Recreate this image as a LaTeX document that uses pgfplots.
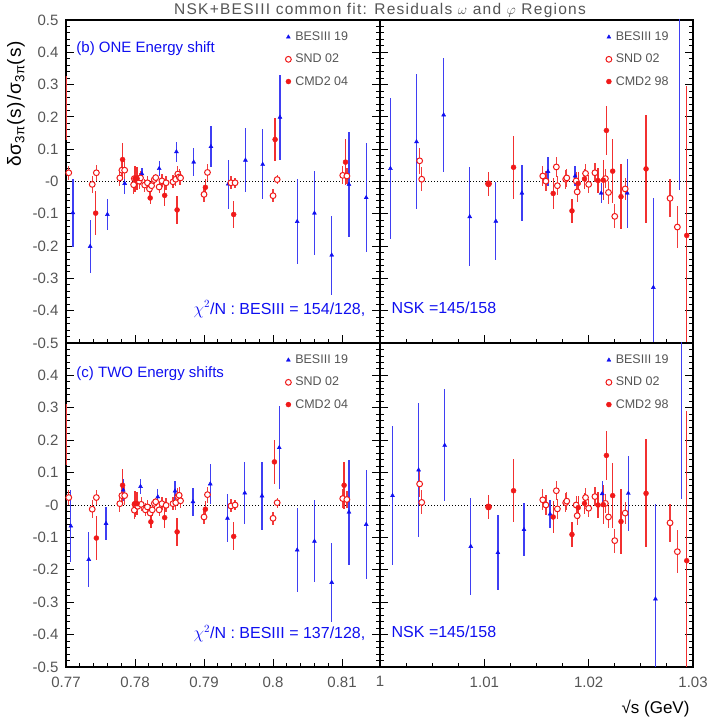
\documentclass[border=0pt]{standalone}
\usepackage{fontspec}
\setmainfont{Liberation Sans}
\newfontfamily\widefont{Liberation Sans}[LetterSpace=8]
\newfontfamily\ylabfont{Liberation Sans}[LetterSpace=5]
\usepackage{pgfplots}
\pgfplotsset{compat=1.18}
\definecolor{rblue}{RGB}{15,15,240}
\definecolor{rred}{RGB}{240,25,25}
\definecolor{tgray}{RGB}{85,85,85}
\newcommand\ticksize{\fontsize{15}{18}\selectfont}
\newcommand\legsize{\fontsize{12.5}{15}\selectfont}
\newcommand\txtsize{\fontsize{15}{18}\selectfont}
\newcommand\chisize{\fontsize{16}{19}\selectfont}
\pgfplotsset{
  base/.style={
    scale only axis,
    ymin=-0.5, ymax=0.5,
    ytick={-0.5,-0.4,-0.3,-0.2,-0.1,0,0.1,0.2,0.3,0.4,0.5},
    minor y tick num=4,
    tick align=inside, xtick pos=bottom, ytick pos=both,
    major tick length=8pt, minor tick length=4pt,
    axis line style={line width=1.3pt},
    every tick/.append style={black, line width=0.9pt},
    tick label style={font=\ticksize, text=tgray},
    xticklabel style={yshift=-6pt},
    yticklabel style={xshift=-4pt},
    /pgf/number format/assume math mode=true,
    legend style={draw=none, fill=none, font=\legsize, text=tgray,
      inner sep=0pt, outer sep=0pt, row sep=10pt, column sep=3pt,
      nodes={inner sep=1pt}, anchor=north west},
    legend cell align=left,
    legend image code/.code={\draw[#1] plot coordinates {(0pt,0pt)};},
  },
  leftcol/.style={xmin=0.77, xmax=0.8155, width=314pt,
    xtick={0.77,0.78,0.79,0.8,0.81}, xticklabels={0.77,0.78,0.79,0.8,0.81},
    minor x tick num=4, legend style={at={(0.699,0.966)}}},
  rightcol/.style={xmin=1, xmax=1.03, width=313pt,
    xtick={1,1.01,1.02,1.03}, xticklabels={1,1.01,1.02,1.03},
    minor x tick num=3, yticklabels={}, legend style={at={(0.722,0.966)}}},
  bes/.style={only marks, mark=triangle*, mark size=2.3pt, color=rblue,
    error bars/y dir=both, error bars/y explicit, error bars/error mark=none,
    error bars/error bar style={line width=1.25pt, color=rblue!80!white}},
  snd/.style={only marks, mark=*, mark size=2.9pt, color=rred,
    mark options={fill=white, draw=rred, line width=1pt},
    error bars/y dir=both, error bars/y explicit, error bars/error mark=none,
    error bars/error bar style={line width=1.25pt, color=rred!85!white}},
  cmd/.style={only marks, mark=*, mark size=2.5pt, color=rred,
    mark options={fill=rred, draw=rred},
    error bars/y dir=both, error bars/y explicit, error bars/error mark=none,
    error bars/error bar style={line width=1.25pt, color=rred!90!white}},
  edge/.style={only marks, mark=*, mark size=0pt, color=rred, forget plot,
    error bars/y dir=both, error bars/y explicit, error bars/error mark=none,
    error bars/error bar style={line width=1.6pt, color=rred!85!white}},
  zero/.style={black, dash pattern=on 1pt off 2pt, line width=0.7pt, forget plot},
}
\begin{document}
\begin{tikzpicture}
\path[use as bounding box] (-66pt,-52pt) rectangle (643pt,667pt);

% ---------------- upper left (b) ----------------
\begin{axis}[base, leftcol, height=323pt, at={(0pt,324pt)}, xticklabels={},
  yticklabels={-0.5,-0.4,-0.3,-0.2,-0.1,-0,0.1,0.2,0.3,0.4,0.5}]
\addplot[zero] coordinates {(0.77,0) (0.8155,0)};
\addplot[edge] table[row sep=\\, y error index=2] {x y e\\ 0.7700 0.228 0.100\\};
\addplot[bes] table[row sep=\\, y error index=2] {
x y e\\
0.7710 -0.097 0.105\\ 0.7735 -0.201 0.083\\ 0.7760 -0.102 0.047\\
0.7785 -0.006 0.033\\ 0.7810 0.024 0.018\\ 0.7835 0.040 0.023\\
0.7860 0.092 0.031\\ 0.7885 0.060 0.044\\ 0.7910 0.108 0.063\\
0.7935 -0.008 0.076\\ 0.7960 0.066 0.099\\ 0.7985 0.053 0.108\\
0.8010 0.199 0.131\\ 0.8035 -0.124 0.132\\ 0.8060 -0.098 0.129\\
0.8085 -0.228 0.122\\ 0.8110 -0.009 0.163\\ 0.8135 -0.050 0.169\\
};
\addlegendentry{BESIII 19}
\addplot[snd] table[row sep=\\, y error index=2] {
x y e\\
0.7704 0.027 0.022\\ 0.7738 -0.009 0.027\\ 0.7744 0.027 0.024\\
0.7778 0.011 0.026\\ 0.7781 0.035 0.030\\ 0.7785 0.035 0.028\\
0.7798 -0.010 0.028\\ 0.7799 0.009 0.030\\ 0.7803 0.009 0.028\\
0.7806 0.001 0.025\\ 0.7808 0.011 0.022\\ 0.7814 -0.011 0.020\\
0.7818 -0.004 0.020\\ 0.7821 -0.023 0.022\\ 0.7824 -0.013 0.020\\
0.7828 0.006 0.015\\ 0.7830 0.012 0.012\\ 0.7835 -0.017 0.018\\
0.7839 0.002 0.020\\ 0.7845 -0.004 0.022\\ 0.7855 -0.001 0.020\\
0.7859 0.007 0.022\\ 0.7862 0.023 0.025\\ 0.7864 0.014 0.025\\
0.7866 0.011 0.022\\ 0.7900 -0.040 0.022\\ 0.7905 0.028 0.025\\
0.7939 -0.004 0.020\\ 0.7945 -0.004 0.015\\ 0.8000 -0.044 0.020\\
0.8006 0.006 0.015\\ 0.8101 0.019 0.028\\ 0.8107 0.017 0.025\\
};
\addlegendentry{SND 02}
\addplot[cmd] table[row sep=\\, y error index=2] {
x y e\\
0.7743 -0.098 0.068\\ 0.7782 0.068 0.050\\ 0.7800 0.009 0.040\\
0.7803 0.009 0.035\\ 0.7822 -0.051 0.018\\ 0.7843 -0.043 0.032\\
0.7861 -0.088 0.043\\ 0.7902 -0.018 0.026\\ 0.7943 -0.102 0.043\\
0.8003 0.130 0.068\\ 0.8105 0.060 0.072\\
};
\addlegendentry{CMD2 04}
\node[anchor=base west, text=rblue, font=\txtsize] at (rel axis cs:0.022,0.898) {(b) ONE Energy shift};
\node[anchor=base west, text=rblue, font=\chisize] at (rel axis cs:0.395,0.089) {$\chi^2$/N : BESIII = 154/128,};
\end{axis}

% ---------------- upper right ----------------
\begin{axis}[base, rightcol, height=323pt, at={(314pt,324pt)}, xticklabels={}]
\addplot[zero] coordinates {(1,0) (1.03,0)};
\addplot[bes] table[row sep=\\, y error index=2] {
x y e\\
1.0010 0.040 0.218\\ 1.0035 0.123 0.209\\ 1.0061 0.206 0.177\\
1.0086 -0.109 0.154\\ 1.0111 -0.123 0.120\\ 1.0136 -0.036 0.086\\
1.0161 0.031 0.046\\ 1.0187 0.017 0.030\\ 1.0212 -0.036 0.030\\
1.0237 -0.036 0.107\\ 1.0262 -0.328 0.278\\ 1.0287 0.600 0.627\\
};
\addlegendentry{BESIII 19}
\addplot[snd] table[row sep=\\, y error index=2] {
x y e\\
1.0038 0.064 0.041\\ 1.0040 0.007 0.037\\ 1.0104 -0.007 0.035\\
1.0156 0.017 0.032\\ 1.0159 0.001 0.030\\ 1.0169 0.045 0.030\\
1.0170 -0.013 0.030\\ 1.0178 0.007 0.030\\ 1.0179 0.011 0.028\\
1.0188 0.002 0.028\\ 1.0189 -0.032 0.030\\ 1.0197 0.025 0.028\\
1.0200 -0.009 0.028\\ 1.0206 0.027 0.030\\ 1.0216 0.009 0.030\\
1.0219 -0.034 0.035\\ 1.0225 -0.108 0.037\\ 1.0235 -0.023 0.035\\
1.0278 -0.052 0.059\\ 1.0285 -0.141 0.066\\
};
\addlegendentry{SND 02}
\addplot[cmd] table[row sep=\\, y error index=2] {
x y e\\
1.0104 -0.007 0.037\\ 1.0128 0.044 0.097\\ 1.0166 -0.037 0.049\\
1.0184 -0.091 0.038\\ 1.0190 -0.006 0.036\\ 1.0196 0.008 0.032\\
1.0209 0.003 0.039\\ 1.0214 0.004 0.061\\ 1.0217 0.158 0.076\\
1.0223 0.032 0.100\\ 1.0231 -0.047 0.100\\ 1.0255 0.039 0.167\\
1.0294 -0.167 0.464\\
};
\addlegendentry{CMD2 98}
\node[anchor=base west, text=rblue, font=\chisize] at (rel axis cs:0.026,0.092) {NSK =145/158};
\end{axis}

% ---------------- lower left (c) ----------------
\begin{axis}[base, leftcol, height=324pt, at={(0pt,0pt)},
  yticklabels={-0.5,-0.4,-0.3,-0.2,-0.1,-0,0.1,0.2,0.3,0.4,{}}]
\addplot[zero] coordinates {(0.77,0) (0.8155,0)};
\addplot[edge] table[row sep=\\, y error index=2] {x y e\\ 0.7700 0.218 0.095\\};
\addplot[bes] table[row sep=\\, y error index=2] {
x y e\\
0.7707 -0.065 0.112\\ 0.7733 -0.168 0.086\\ 0.7758 -0.057 0.050\\
0.7783 0.046 0.033\\ 0.7808 0.057 0.022\\ 0.7833 0.025 0.023\\
0.7858 0.043 0.030\\ 0.7884 0.010 0.043\\ 0.7909 0.065 0.062\\
0.7934 -0.041 0.074\\ 0.7959 0.037 0.097\\ 0.7984 0.028 0.106\\
0.8009 0.177 0.129\\ 0.8035 -0.139 0.131\\ 0.8060 -0.112 0.127\\
0.8085 -0.239 0.122\\ 0.8110 -0.022 0.162\\ 0.8135 -0.060 0.168\\
};
\addlegendentry{BESIII 19}
\addplot[snd] table[row sep=\\, y error index=2] {
x y e\\
0.7704 0.023 0.022\\ 0.7738 -0.013 0.027\\ 0.7744 0.023 0.024\\
0.7778 0.004 0.026\\ 0.7781 0.029 0.030\\ 0.7785 0.029 0.028\\
0.7799 -0.016 0.028\\ 0.7800 0.002 0.030\\ 0.7804 -0.004 0.028\\
0.7809 0.002 0.022\\ 0.7815 -0.015 0.020\\ 0.7818 -0.006 0.020\\
0.7822 -0.025 0.022\\ 0.7825 -0.015 0.020\\ 0.7828 0.005 0.015\\
0.7830 0.010 0.012\\ 0.7835 -0.015 0.018\\ 0.7839 0.004 0.020\\
0.7845 -0.001 0.022\\ 0.7855 0.004 0.020\\ 0.7859 0.007 0.022\\
0.7862 0.026 0.025\\ 0.7864 0.030 0.025\\ 0.7866 0.013 0.022\\
0.7900 -0.037 0.022\\ 0.7905 0.032 0.025\\ 0.7939 -0.003 0.020\\
0.7945 0.000 0.015\\ 0.8000 -0.041 0.020\\ 0.8006 0.007 0.015\\
0.8101 0.020 0.028\\ 0.8107 0.017 0.025\\
};
\addlegendentry{SND 02}
\addplot[cmd] table[row sep=\\, y error index=2] {
x y e\\
0.7744 -0.102 0.068\\ 0.7782 0.061 0.050\\ 0.7800 0.004 0.040\\
0.7803 0.004 0.035\\ 0.7823 -0.052 0.018\\ 0.7843 -0.039 0.032\\
0.7861 -0.083 0.043\\ 0.7902 -0.013 0.026\\ 0.7943 -0.097 0.043\\
0.8002 0.133 0.068\\ 0.8103 0.061 0.072\\
};
\addlegendentry{CMD2 04}
\node[anchor=base west, text=rblue, font=\txtsize] at (rel axis cs:0.022,0.895) {(c) TWO Energy shifts};
\node[anchor=base west, text=rblue, font=\chisize] at (rel axis cs:0.395,0.088) {$\chi^2$/N : BESIII = 137/128,};
\end{axis}

% ---------------- lower right ----------------
\begin{axis}[base, rightcol, height=324pt, at={(314pt,0pt)}]
\addplot[zero] coordinates {(1,0) (1.03,0)};
\addplot[bes] table[row sep=\\, y error index=2] {
x y e\\
1.0012 0.029 0.215\\ 1.0037 0.108 0.207\\ 1.0062 0.184 0.173\\
1.0087 -0.128 0.151\\ 1.0113 -0.147 0.115\\ 1.0138 -0.076 0.082\\
1.0163 -0.028 0.044\\ 1.0188 -0.002 0.025\\ 1.0213 0.035 0.040\\
1.0238 0.036 0.116\\ 1.0264 -0.290 0.292\\ 1.0289 0.620 0.602\\
};
\addlegendentry{BESIII 19}
\addplot[snd] table[row sep=\\, y error index=2] {
x y e\\
1.0038 0.065 0.041\\ 1.0040 0.008 0.037\\ 1.0104 -0.006 0.035\\
1.0156 0.016 0.032\\ 1.0159 0.000 0.030\\ 1.0169 0.044 0.030\\
1.0170 -0.012 0.030\\ 1.0178 0.007 0.030\\ 1.0179 0.012 0.028\\
1.0188 0.000 0.028\\ 1.0189 -0.033 0.030\\ 1.0197 0.023 0.028\\
1.0200 -0.010 0.028\\ 1.0206 0.026 0.030\\ 1.0216 0.005 0.030\\
1.0219 -0.037 0.035\\ 1.0225 -0.110 0.037\\ 1.0235 -0.025 0.035\\
1.0278 -0.055 0.059\\ 1.0285 -0.144 0.066\\
};
\addlegendentry{SND 02}
\addplot[cmd] table[row sep=\\, y error index=2] {
x y e\\
1.0104 -0.006 0.037\\ 1.0128 0.044 0.097\\ 1.0166 -0.037 0.049\\
1.0184 -0.091 0.038\\ 1.0190 -0.008 0.036\\ 1.0196 0.005 0.032\\
1.0209 0.000 0.039\\ 1.0214 0.001 0.061\\ 1.0217 0.153 0.076\\
1.0223 0.029 0.100\\ 1.0231 -0.051 0.100\\ 1.0255 0.036 0.167\\
1.0294 -0.172 0.462\\
};
\addlegendentry{CMD2 98}
\node[anchor=base west, text=rblue, font=\chisize] at (rel axis cs:0.026,0.090) {NSK =145/158};
\end{axis}

% titles
\node[text=tgray, font=\widefont\fontsize{15.5}{18}\selectfont] at (314pt,656pt) {NSK+BESIII common fit: Residuals $\omega$ and $\varphi$ Regions};
\node[rotate=90, text=black, font=\ylabfont\fontsize{19}{22}\selectfont] at (-50pt,563pt) {δσ\textsubscript{3π}(s)/σ\textsubscript{3π}(s)};
\node[anchor=base east, text=black, font=\fontsize{17}{20}\selectfont] at (627pt,-46pt) {√s (GeV)};
\end{tikzpicture}
\end{document}
